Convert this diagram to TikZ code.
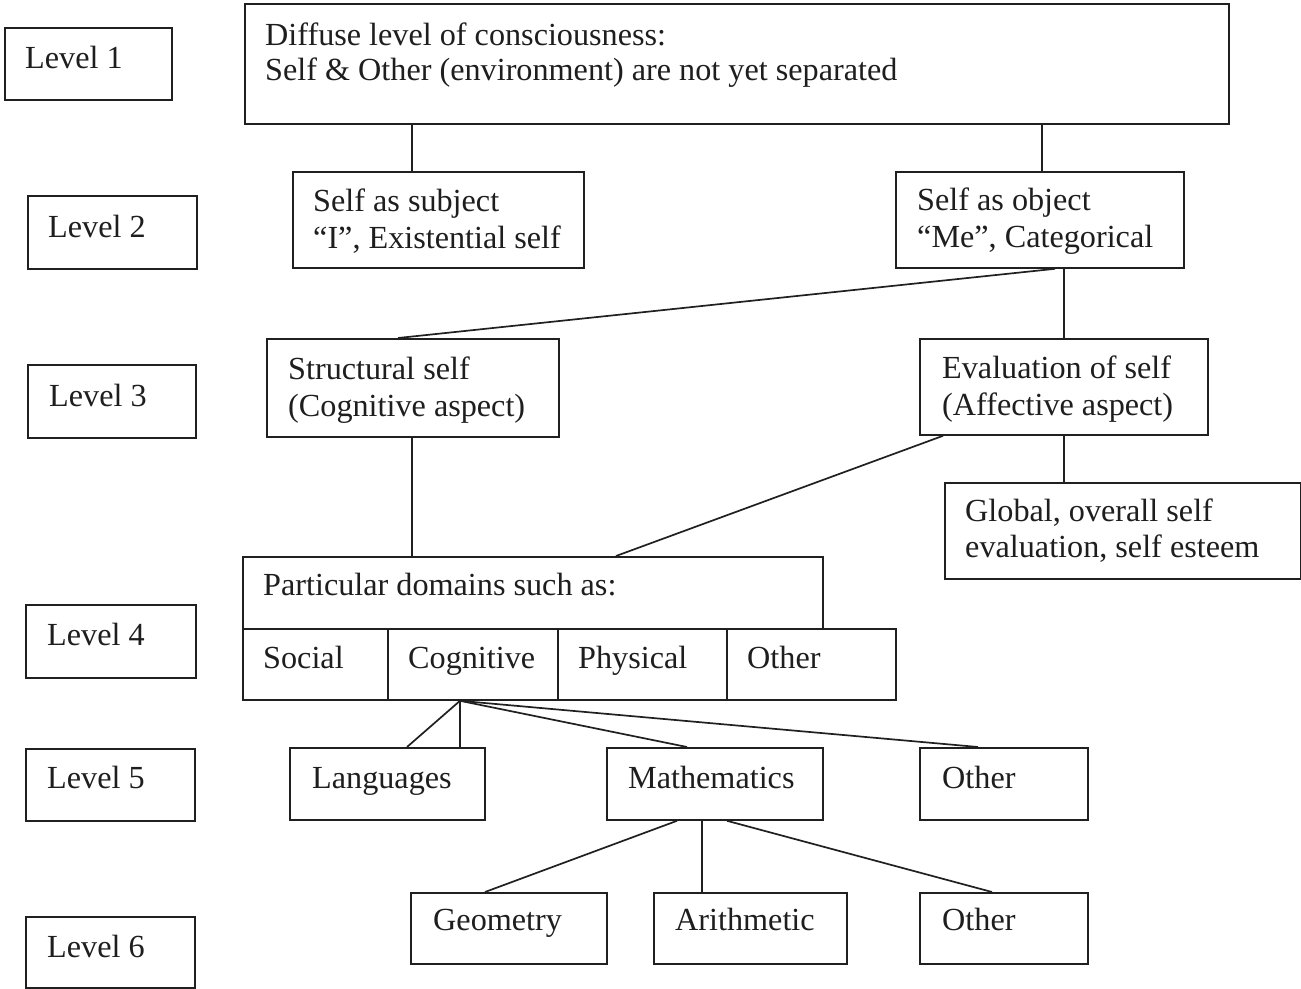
\documentclass[tikz,border=0pt]{standalone}
\usepackage{fontspec}
\setmainfont{Liberation Serif}
\definecolor{ink}{HTML}{1E1E1E}
\definecolor{rule}{HTML}{202020}
\begin{document}
\begin{tikzpicture}[x=1pt,y=-1pt,
  bx/.style={draw=rule,line width=1.8pt,inner sep=0pt,anchor=north west,fill=none},
  txt/.style={anchor=base west,inner sep=0pt,text=ink,font=\fontsize{32.2}{37}\selectfont},
  link/.style={draw=rule,line width=1.7pt}]
\useasboundingbox[fill=white] (0,0) rectangle (1301,988);
% box from (x1,y1) to (x2,y2)
\newcommand\bx[5]{\node[bx,minimum width={(#4-#2)*1pt},minimum height={(#5-#3)*1pt}] (#1) at (#2,#3) {};}

% level labels
\bx{lv1}{4}{27}{171}{99}
\bx{lv2}{27}{195}{196}{268}
\bx{lv3}{27}{364}{195}{437}
\bx{lv4}{25}{604}{195}{677}
\bx{lv5}{25}{748}{194}{820}
\bx{lv6}{25}{916}{194}{987}
\node[txt] (lv1t) at (25,68) {Level 1};
\node[txt] (lv2t) at (48,237) {Level 2};
\node[txt] (lv3t) at (49,406) {Level 3};
\node[txt] (lv4t) at (47,645) {Level 4};
\node[txt] (lv5t) at (47,788) {Level 5};
\node[txt] (lv6t) at (47,957) {Level 6};

% hierarchy boxes
\bx{top}{244}{3}{1228}{123}
\bx{sas}{292}{171}{583}{267}
\bx{sao}{895}{171}{1183}{267}
\bx{struct}{266}{338}{558}{436}
\bx{eval}{919}{338}{1207}{434}
\bx{glob}{944}{482}{1300}{578}
\bx{part}{242}{556}{822}{628}
\bx{social}{242}{628}{387}{699}
\bx{cogn}{387}{628}{557}{699}
\bx{phys}{557}{628}{726}{699}
\bx{othd}{726}{628}{895}{699}
\bx{lang}{289}{747}{484}{819}
\bx{math}{606}{747}{822}{819}
\bx{oth5}{919}{747}{1087}{819}
\bx{geo}{410}{892}{606}{963}
\bx{arith}{653}{892}{846}{963}
\bx{oth6}{919}{892}{1087}{963}

\node[txt] (topa) at (265,45) {Diffuse level of consciousness:};
\node[txt] (topb) at (265,80) {Self \& Other (environment) are not yet separated};
\node[txt] (sasa) at (313,211) {Self as subject};
\node[txt] (sasb) at (313,248) {“I”, Existential self};
\node[txt] (saoa) at (917,210) {Self as object};
\node[txt] (saob) at (917,247) {“Me”, Categorical};
\node[txt] (structa) at (288,379) {Structural self};
\node[txt] (structb) at (288,416) {(Cognitive aspect)};
\node[txt] (evala) at (942,378) {Evaluation of self};
\node[txt] (evalb) at (942,415) {(Affective aspect)};
\node[txt] (globa) at (965,521) {Global, overall self};
\node[txt] (globb) at (965,557) {evaluation, self esteem};
\node[txt] (partt) at (263,595) {Particular domains such as:};
\node[txt] (socialt) at (263,668) {Social};
\node[txt] (cognt) at (408,668) {Cognitive};
\node[txt] (physt) at (578,668) {Physical};
\node[txt] (othdt) at (747,668) {Other};
\node[txt] (langt) at (312,788) {Languages};
\node[txt] (matht) at (628,788) {Mathematics};
\node[txt] (oth5t) at (942,788) {Other};
\node[txt] (geot) at (433,930) {Geometry};
\node[txt] (aritht) at (675,930) {Arithmetic};
\node[txt] (oth6t) at (942,930) {Other};

% connectors
\path[link] ([xshift=168pt]top.south west) -- ([xshift=120pt]sas.north west);
\path[link] ([xshift=798pt]top.south west) -- ([xshift=147pt]sao.north west);
\path[link] ([xshift=160pt]sao.south west) -- ([xshift=132pt]struct.north west);
\path[link] ([xshift=169pt]sao.south west) -- ([xshift=145pt]eval.north west);
\path[link] ([xshift=146pt]struct.south west) -- ([xshift=170pt]part.north west);
\path[link] ([xshift=24pt]eval.south west) -- ([xshift=374pt]part.north west);
\path[link] ([xshift=145pt]eval.south west) -- ([xshift=120pt]glob.north west);
\path[link] ([xshift=73pt]cogn.south west) -- ([xshift=118pt]lang.north west);
\path[link] ([xshift=73pt]cogn.south west) -- ([xshift=171pt]lang.north west);
\path[link] ([xshift=73pt]cogn.south west) -- ([xshift=81pt]math.north west);
\path[link] ([xshift=73pt]cogn.south west) -- ([xshift=59pt]oth5.north west);
\path[link] ([xshift=71pt]math.south west) -- ([xshift=75pt]geo.north west);
\path[link] ([xshift=96pt]math.south west) -- ([xshift=49pt]arith.north west);
\path[link] ([xshift=121pt]math.south west) -- ([xshift=73pt]oth6.north west);
\end{tikzpicture}
\end{document}
